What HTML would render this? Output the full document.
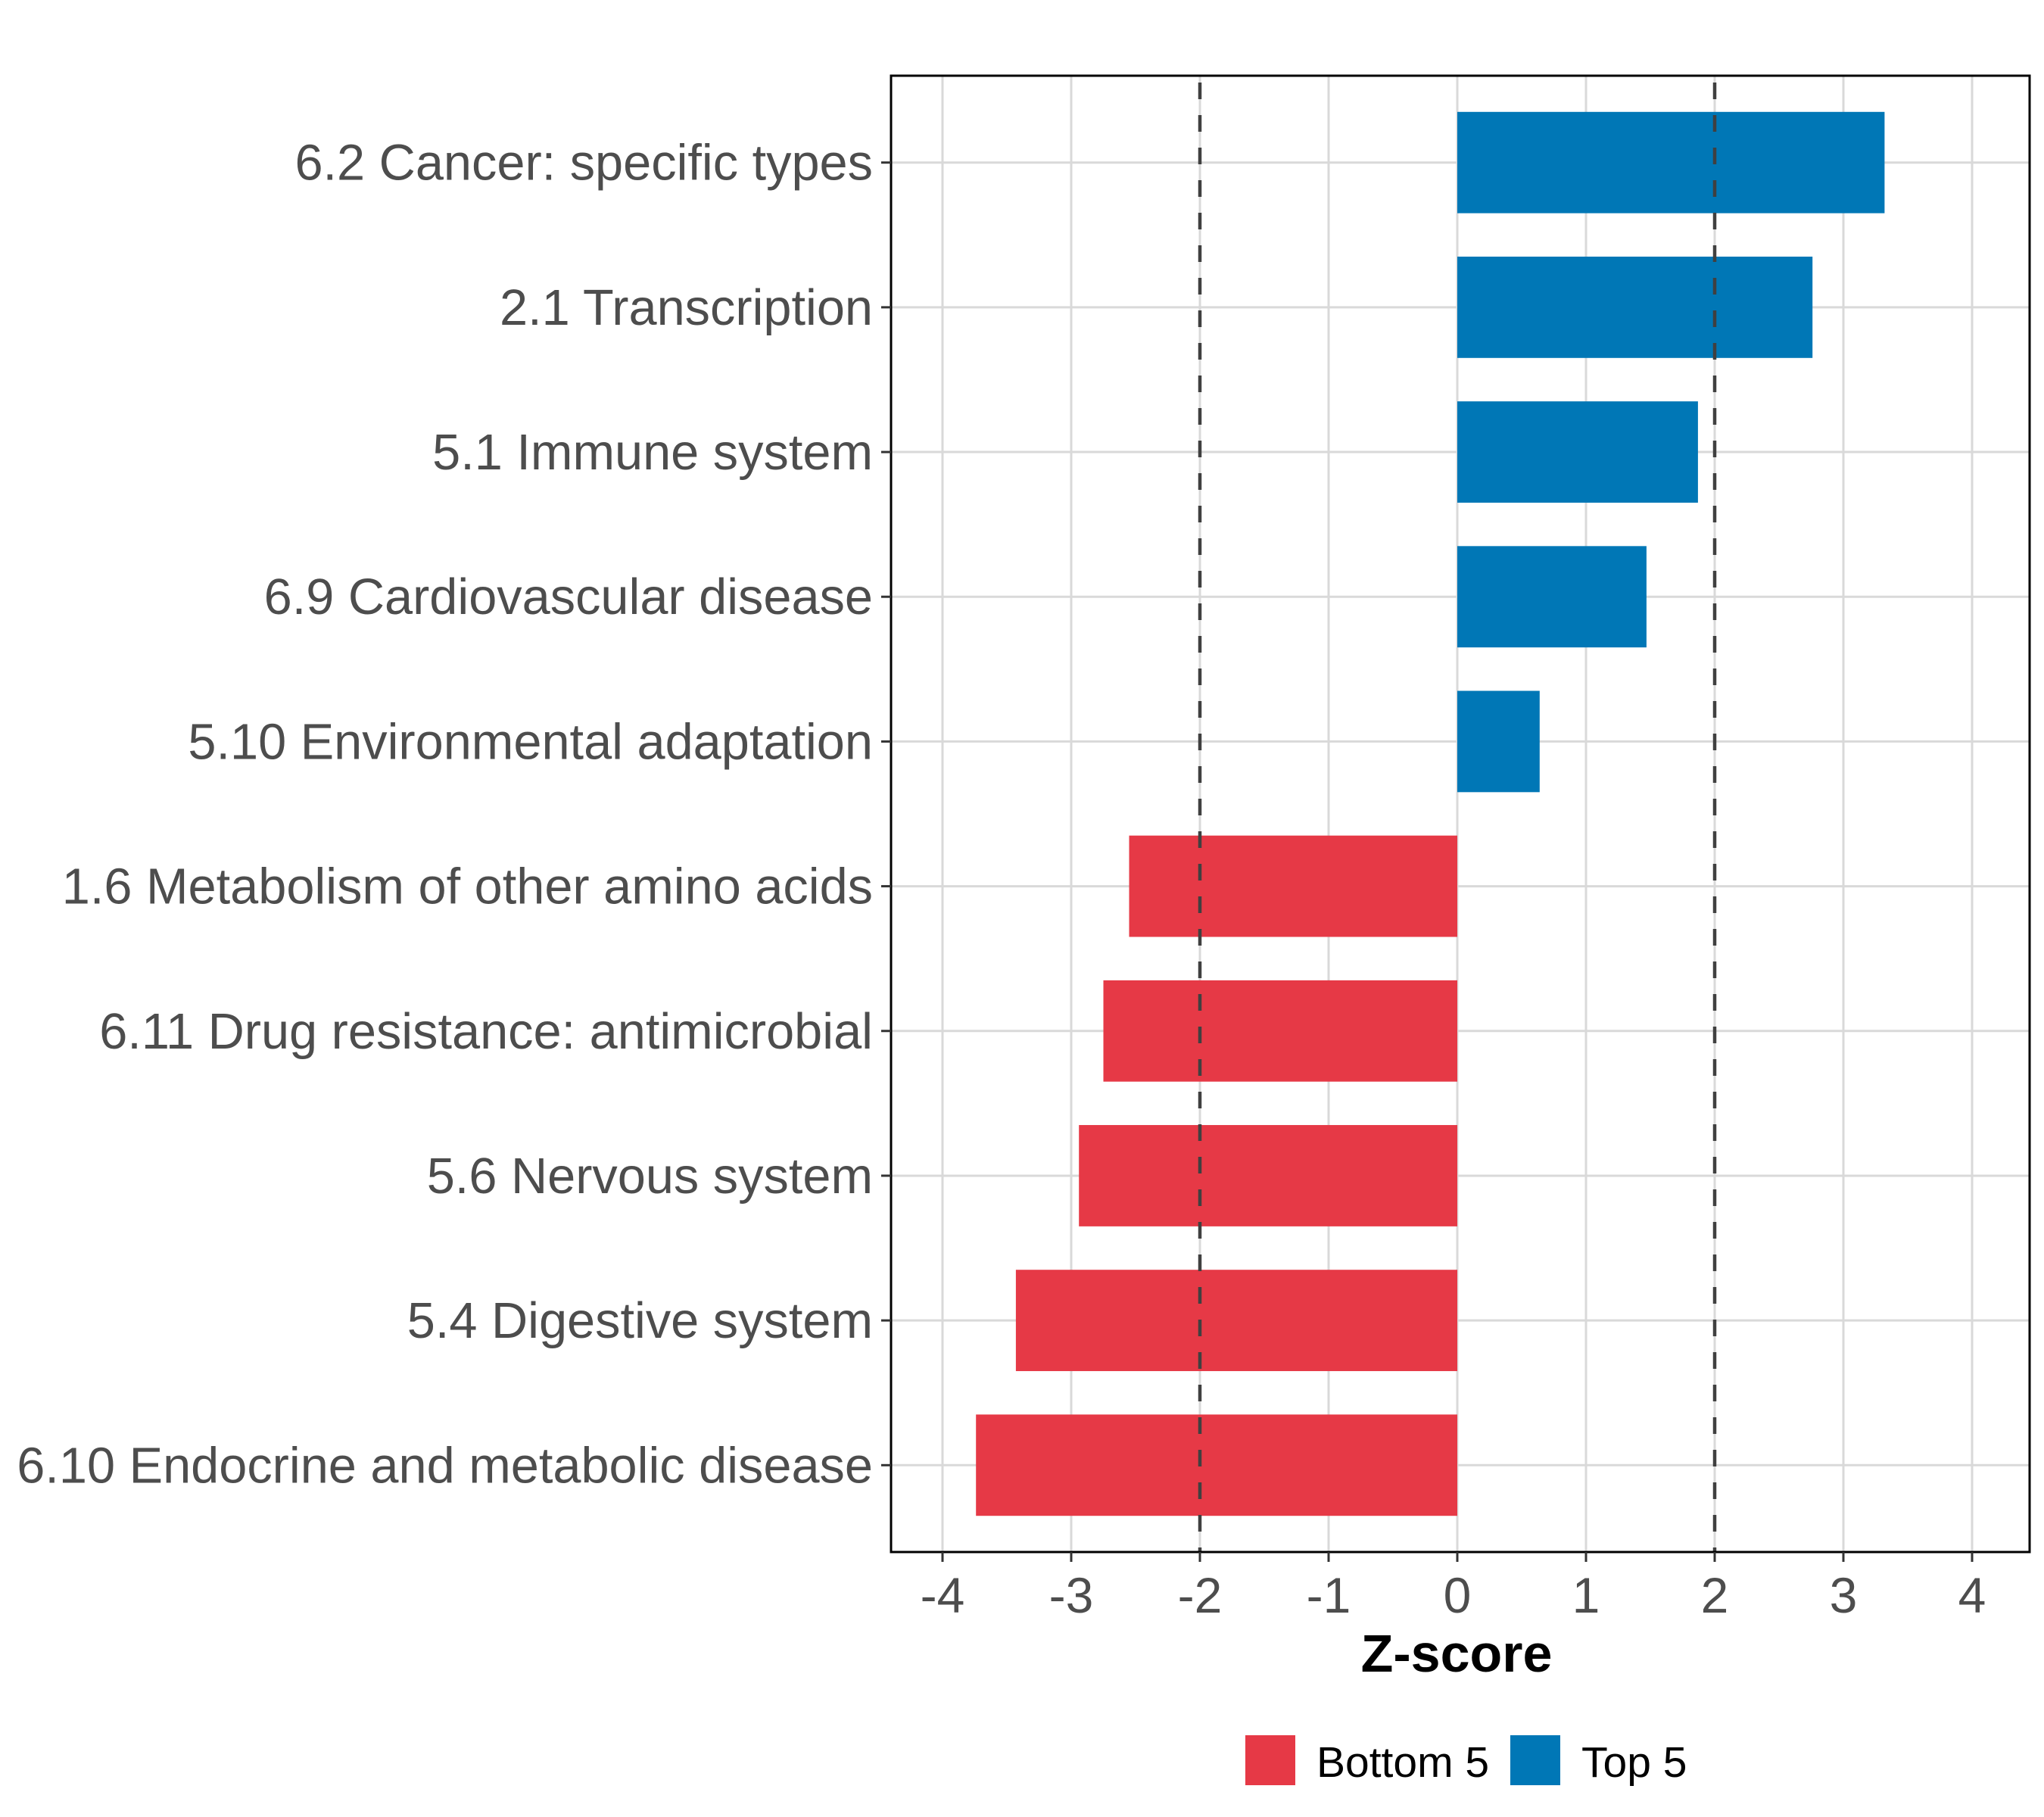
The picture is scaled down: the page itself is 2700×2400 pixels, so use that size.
<!DOCTYPE html>
<html><head><meta charset="utf-8"><style>
html,body{margin:0;padding:0;background:#fff;}
svg{display:block;font-family:"Liberation Sans",Arial,sans-serif;}
</style></head><body>
<svg id="chart" width="2700" height="2400" viewBox="0 0 2700 2400">
<g id="grid"></g>
<g id="bars"></g>
<g id="refs"></g>
<rect x="1177" y="100" width="1504" height="1950" fill="none" stroke="#000" stroke-width="3"/>
<g id="yaxis"></g>
<g id="xaxis"></g>
<text x="1924" y="2208" text-anchor="middle" font-size="70" font-weight="bold" fill="#000">Z-score</text>
<g>
<g>
<rect x="1645" y="2292" width="66" height="66" fill="#E63946"/>
<text x="1739" y="2347" font-size="57" fill="#000">Bottom 5</text>
</g>
<g>
<rect x="1995" y="2292" width="66" height="66" fill="#0077B6"/>
<text x="2089" y="2347" font-size="57" fill="#000">Top 5</text>
</g>
</g>
</svg>
<script>
const categories = ["6.2 Cancer: specific types","2.1 Transcription","5.1 Immune system","6.9 Cardiovascular disease","5.10 Environmental adaptation","1.6 Metabolism of other amino acids","6.11 Drug resistance: antimicrobial","5.6 Nervous system","5.4 Digestive system","6.10 Endocrine and metabolic disease"];
const zscores = [3.32, 2.76, 1.87, 1.47, 0.64, -2.55, -2.75, -2.94, -3.43, -3.74];
const groups = ["Top 5","Top 5","Top 5","Top 5","Top 5","Bottom 5","Bottom 5","Bottom 5","Bottom 5","Bottom 5"];
const xTicks = [-4,-3,-2,-1,0,1,2,3,4];
const xTickLabels = ["-4","-3","-2","-1","0","1","2","3","4"];
const refLines = [-2, 2];

const NS = "http://www.w3.org/2000/svg";
const PL = 1177, PR = 2681, PT = 100, PB = 2050;
const X0 = 1925, XU = 170;
function xs(v){ return X0 + v * XU; }
const band = (PB - PT) / (categories.length + 0.2);
function ys(i){ return PT + (i + 0.6) * band; }
function mk(tag, attrs, parent){ const e = document.createElementNS(NS, tag); for (const k in attrs) e.setAttribute(k, attrs[k]); parent.appendChild(e); return e; }
const colors = {"Top 5":"#0077B6","Bottom 5":"#E63946"};
const grid = document.getElementById('grid'), bars = document.getElementById('bars'), refs = document.getElementById('refs'), yaxis = document.getElementById('yaxis'), xaxis = document.getElementById('xaxis');

xTicks.forEach((t, i) => {
  const g = mk('line', {x1: xs(t), x2: xs(t), y1: PT, y2: PB, stroke: '#d9d9d9', 'stroke-width': 3}, grid);
  
  
  const tk = mk('line', {x1: xs(t), x2: xs(t), y1: PB, y2: PB + 13, stroke: '#333', 'stroke-width': 3}, xaxis);
  
  
  const tx = mk('text', {x: xs(t), y: PB + 80, 'text-anchor': 'middle', 'font-size': 66, fill: '#4d4d4d'}, xaxis);
  tx.textContent = xTickLabels[i];
  
  
});
categories.forEach((c, i) => {
  const y = ys(i);
  const g = mk('line', {x1: PL, x2: PR, y1: y, y2: y, stroke: '#d9d9d9', 'stroke-width': 3}, grid);
  
  
  const v = zscores[i];
  const h = band * 0.7;
  const r = mk('rect', {x: Math.min(xs(0), xs(v)), y: y - h / 2, width: Math.abs(xs(v) - xs(0)), height: h, fill: colors[groups[i]]}, bars);
  
  
  const tk = mk('line', {x1: PL - 13, x2: PL, y1: y, y2: y, stroke: '#333', 'stroke-width': 3}, yaxis);
  
  
  const tx = mk('text', {x: PL - 24, y: y + 23, 'text-anchor': 'end', 'font-size': 66.7, fill: '#4d4d4d'}, yaxis);
  tx.textContent = c;
  
  
});
refLines.forEach(v => {
  const l = mk('line', {x1: xs(v), x2: xs(v), y1: PT + 9, y2: PB, stroke: '#404040', 'stroke-width': 4.5, 'stroke-dasharray': '22 21'}, refs);
  
  
});
</script>
</body></html>
